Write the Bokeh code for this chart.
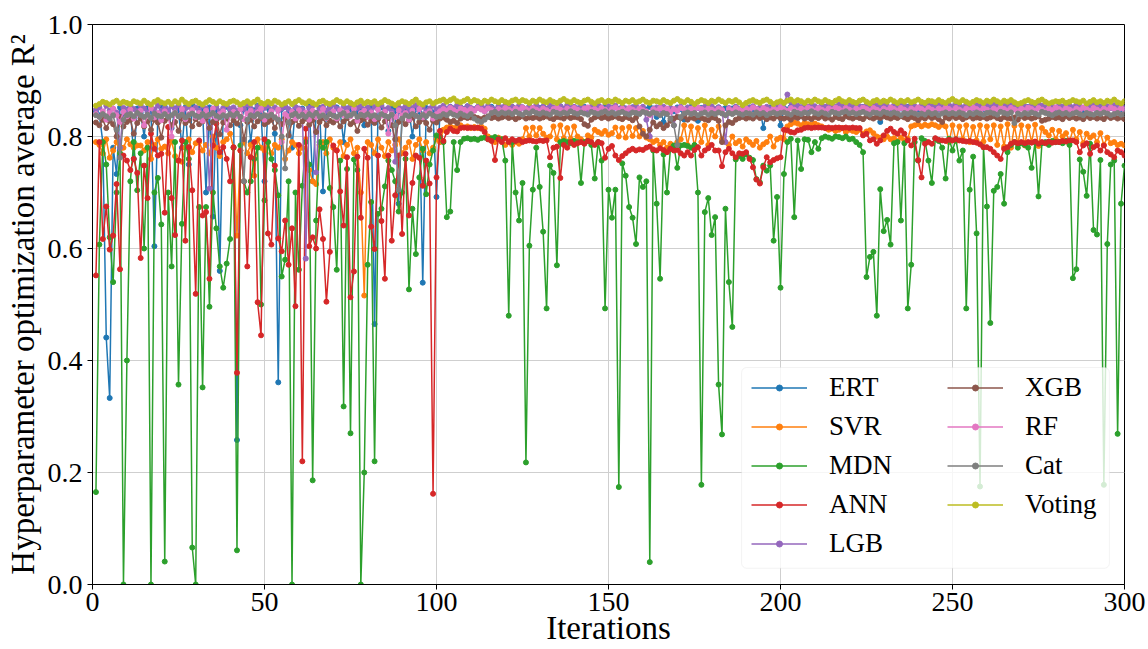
from bokeh.plotting import figure
from bokeh.models import (Legend, LegendItem, FixedTicker, BoxAnnotation,
                          ColumnDataSource, PrintfTickFormatter)
from bokeh.embed import file_html
from bokeh.resources import INLINE

ITER = list(range(1, 301))

# values in thousandths of R^2
ERT = [
845,838,790,441,333,780,733,852,840,848,
855,760,850,842,800,851,846,604,838,852,
853,845,815,850,848,780,852,750,856,835,
850,846,700,852,657,849,560,845,853,838,
850,258,820,848,852,790,847,855,843,720,
851,846,805,361,849,853,845,780,852,847,
850,835,854,720,842,851,702,846,853,840,
852,845,790,850,848,855,843,851,820,847,
853,465,849,852,845,810,851,846,680,842,
850,847,800,852,845,539,851,848,843,692,
845,851,848,853,850,846,852,849,854,850,
847,852,849,845,851,853,848,850,846,852,
849,853,850,847,852,848,854,850,846,851,
853,849,852,847,850,854,848,851,846,852,
850,847,853,849,851,846,852,848,854,850,
847,852,849,853,850,846,852,849,845,851,
848,853,850,835,852,826,849,851,845,852,
849,830,850,853,848,828,851,849,853,850,
846,852,848,851,845,850,853,847,851,848,
852,849,846,851,815,848,852,849,846,820,
851,848,853,849,846,852,850,847,853,849,
851,847,852,849,846,853,850,848,852,849,
846,851,848,853,850,847,852,849,826,851,
853,849,846,852,850,847,853,849,851,848,
852,849,846,851,853,848,850,847,852,849,
853,850,846,852,849,851,847,853,849,846,
852,849,851,847,853,850,846,852,849,851,
848,853,850,846,852,849,851,847,853,850,
846,852,849,851,847,853,850,846,852,849,
851,847,853,850,846,852,849,851,848,850]

SVR = [
790,785,770,795,762,775,790,770,780,795,
786,780,784,784,775,790,760,785,795,778,
782,770,792,765,757,755,780,795,772,788,
790,775,785,770,800,780,765,790,795,805,
780,623,775,790,770,785,730,795,780,775,
790,770,785,780,795,760,775,790,785,770,
780,795,740,720,715,785,790,770,795,780,
775,790,765,785,795,770,780,700,516,790,
785,770,795,780,765,790,775,785,795,770,
780,790,760,785,795,775,790,770,780,795,
790,812,816,818,815,817,820,816,818,815,
817,815,818,814,800,795,790,798,795,785,
792,785,790,787,795,815,800,816,802,815,
805,798,800,818,795,820,797,815,796,818,
800,795,790,802,798,812,808,805,810,803,
806,816,800,815,798,817,801,815,800,810,
798,795,790,793,785,790,780,787,783,790,
795,820,785,818,782,815,790,820,785,812,
800,818,795,790,785,800,788,792,782,795,
790,785,792,780,786,790,800,782,795,798,
795,818,822,825,823,820,824,822,821,823,
820,818,815,812,814,810,812,815,808,812,
810,808,812,805,809,811,806,800,798,795,
800,795,797,792,798,793,796,818,820,822,
818,821,819,822,820,817,821,818,790,820,
792,818,795,820,790,817,793,820,791,818,
795,820,785,818,782,822,780,819,786,820,
784,818,790,821,783,815,808,802,812,795,
810,800,806,790,812,795,808,788,805,798,
802,790,806,785,798,788,790,785,787,784]

MDN = [
165,607,790,750,620,540,700,770,0,400,
720,790,704,770,600,780,0,700,726,643,
41,700,568,790,357,644,790,760,66,0,
674,352,674,496,700,636,568,530,573,617,
780,61,784,720,700,720,760,780,500,686,
790,760,740,695,550,580,720,0,700,562,
712,790,750,186,650,790,780,790,708,674,
562,757,318,742,270,759,740,0,200,571,
683,220,662,671,711,757,740,720,666,700,
760,527,671,590,727,778,697,750,775,802,
800,790,656,666,790,740,790,796,797,795,
796,794,797,798,795,797,799,796,795,757,
480,790,700,650,717,218,605,705,780,710,
630,493,748,735,570,790,792,790,788,792,
790,717,790,792,785,725,790,757,493,705,
655,705,174,752,730,674,655,608,727,710,
720,40,775,680,546,768,700,778,784,744,
784,785,783,780,785,700,178,665,690,624,
656,357,268,671,540,460,759,765,760,768,
762,758,724,718,748,739,748,614,692,530,
733,790,796,656,793,742,795,794,772,790,
778,797,800,798,796,800,799,797,800,795,
796,790,785,772,549,585,594,480,706,631,
651,607,788,790,650,788,493,571,790,757,
797,792,757,717,796,792,780,725,796,775,
795,757,775,493,705,764,627,175,781,675,
467,703,710,733,680,772,785,790,780,788,
785,780,744,790,693,788,790,785,792,790,
790,788,792,785,547,563,759,737,694,787,
633,625,758,178,608,750,757,269,680,748]

ANN = [
552,790,617,675,598,623,715,563,766,757,
740,760,735,583,748,690,805,778,766,769,
664,817,690,624,757,793,614,781,704,519,
793,659,665,546,784,823,772,781,760,720,
781,378,775,720,568,763,790,504,445,795,
627,607,748,618,595,650,571,636,497,785,
220,814,604,620,600,670,617,505,594,784,
775,702,641,763,513,559,764,655,778,762,
639,599,766,649,546,766,614,695,766,626,
769,659,717,766,762,712,757,716,162,727,
810,792,808,814,810,809,815,816,815,816,
815,816,814,808,795,792,758,795,790,797,
790,795,792,794,790,792,793,792,791,793,
792,793,763,780,782,726,785,780,790,785,
788,790,787,792,790,785,790,788,762,778,
783,766,758,765,770,775,778,775,777,776,
780,782,777,775,779,776,772,778,775,776,
770,766,772,766,776,781,766,775,779,785,
775,775,747,772,778,770,763,770,769,772,
760,745,723,716,745,763,754,758,761,763,
812,811,808,807,811,812,815,816,815,816,
816,816,815,816,815,816,816,815,816,815,
816,815,815,802,805,793,795,787,793,802,
810,814,808,805,811,805,793,784,796,758,
727,787,790,787,797,794,793,792,794,793,
795,793,792,791,792,790,789,786,781,781,
778,772,766,760,778,781,787,790,788,790,
788,790,789,791,787,790,788,791,789,790,
790,792,791,793,793,790,772,784,788,769,
781,784,775,784,772,768,763,775,772,766]

LGB = [
848,852,840,855,846,850,843,780,851,847,
853,849,845,856,850,843,852,848,855,846,
851,847,854,849,856,845,850,853,848,852,
846,855,850,707,848,853,845,851,856,849,
852,846,854,849,857,850,844,853,848,851,
855,847,852,846,850,854,849,845,853,850,
848,582,851,855,736,849,853,846,851,857,
850,845,853,849,855,847,851,854,848,852,
846,853,850,856,848,851,845,755,852,849,
854,847,851,856,849,853,845,850,855,848,
851,855,849,853,850,856,852,848,854,851,
849,853,857,850,855,851,848,854,852,856,
850,853,849,855,852,848,854,851,856,850,
853,849,855,852,848,854,850,856,851,853,
849,855,851,847,853,850,856,852,848,854,
851,855,849,853,850,847,852,855,849,853,
830,800,845,852,849,853,847,851,820,850,
853,848,852,849,855,851,847,853,850,854,
849,852,848,790,851,847,853,849,852,848,
851,854,849,852,847,853,850,848,855,852,
860,875,862,858,855,852,856,853,857,854,
851,856,853,858,855,851,857,854,852,856,
853,857,854,851,856,853,858,855,852,857,
854,851,856,853,858,855,852,857,854,851,
856,853,858,855,852,857,854,851,856,853,
858,855,852,857,854,851,856,853,858,855,
852,857,854,851,856,853,858,855,852,857,
854,851,856,853,858,855,852,857,854,851,
856,853,858,855,852,857,854,851,856,853,
858,855,852,857,854,851,856,853,855,852]

XGB = [
825,820,830,815,828,822,800,835,818,826,
830,805,824,832,818,827,812,830,825,798,
828,833,820,826,810,832,824,829,818,831,
822,827,833,815,826,830,804,825,832,820,
829,823,835,795,826,830,818,827,833,822,
826,830,815,828,822,833,802,826,830,819,
827,832,821,829,808,826,833,820,828,825,
830,818,827,833,822,826,810,829,832,821,
828,824,831,816,827,833,820,795,826,830,
822,829,834,818,826,831,824,812,828,825,
832,834,830,826,828,824,832,835,833,834,
835,833,831,834,836,833,835,832,834,836,
833,835,831,834,836,832,834,833,835,832,
834,836,833,831,835,834,832,836,833,835,
834,831,822,819,830,834,836,833,835,832,
834,836,833,831,835,833,829,834,818,805,
800,812,825,818,822,815,820,828,832,835,
833,836,830,834,832,835,833,831,829,834,
833,828,790,820,826,824,830,833,835,832,
834,832,836,833,835,831,834,832,836,833,
832,834,830,835,833,836,832,834,831,835,
833,836,832,834,830,835,833,831,836,834,
832,835,833,831,836,834,832,835,833,836,
834,832,835,833,836,834,831,835,833,829,
834,832,836,833,835,831,826,834,832,836,
833,835,831,834,836,832,834,833,835,832,
834,836,833,831,835,833,832,834,830,836,
833,835,832,834,836,828,830,832,835,833,
834,831,836,833,835,832,834,831,836,833,
835,832,834,831,836,833,835,832,834,831]

RF = [
840,835,845,830,842,850,838,826,844,836,
848,832,840,846,820,838,851,834,842,829,
845,838,800,843,836,849,831,840,847,835,
842,828,846,837,850,833,840,845,812,838,
844,836,849,831,841,846,835,843,850,830,
838,845,834,848,790,840,836,844,832,847,
839,843,830,846,835,841,849,833,840,845,
832,847,838,843,836,850,828,842,846,835,
843,831,848,837,844,805,840,835,847,838,
842,830,846,837,849,834,841,845,832,840,
845,849,846,851,847,844,850,848,845,849,
846,851,848,845,850,847,844,849,846,851,
848,845,850,847,852,849,846,851,848,845,
850,847,844,849,852,848,845,850,847,851,
848,845,850,852,847,849,846,851,848,844,
849,852,847,850,846,851,848,845,850,847,
845,838,849,846,851,847,850,844,849,846,
851,848,845,850,847,852,849,846,850,848,
845,850,847,838,849,846,851,848,845,850,
847,852,849,846,851,848,845,850,847,852,
849,846,851,848,845,850,847,852,849,846,
851,848,845,850,847,852,849,846,851,848,
845,850,847,852,849,846,851,848,845,850,
847,852,849,846,851,848,845,850,847,852,
849,846,851,848,845,850,847,852,849,846,
851,848,845,850,847,852,849,846,851,848,
845,850,847,852,849,846,851,848,845,850,
847,852,849,846,851,848,845,850,847,852,
849,846,851,848,845,850,847,852,849,846,
851,848,845,850,847,852,849,846,851,848]

CAT = [
838,835,840,836,832,838,812,762,830,838,
840,836,842,838,835,839,833,841,837,836,
840,835,838,842,836,839,834,838,841,837,
835,840,836,839,842,837,834,838,836,840,
837,841,835,720,830,838,836,840,835,838,
836,839,834,830,800,743,825,838,841,836,
839,835,840,837,842,836,838,834,840,837,
835,839,842,836,838,841,835,839,837,840,
836,838,834,840,837,835,839,820,705,832,
838,836,840,837,834,839,836,841,838,835,
836,840,838,842,839,837,841,838,836,840,
832,828,826,830,835,842,844,840,843,841,
843,840,844,841,839,843,841,845,842,840,
843,841,839,844,842,840,843,841,845,842,
840,843,841,839,844,842,840,843,845,841,
843,840,842,844,841,839,843,842,840,844,
842,840,843,841,838,842,840,832,820,785,
835,841,843,840,842,838,841,843,839,842,
840,843,841,838,842,840,843,841,839,842,
841,839,843,840,842,838,841,843,840,842,
843,841,839,844,842,840,843,841,845,842,
840,843,841,839,844,842,840,843,845,841,
843,840,842,844,841,839,843,842,840,844,
842,840,843,841,838,842,840,843,841,839,
841,839,843,840,842,838,841,843,840,842,
840,843,841,838,842,840,843,841,839,842,
843,841,839,844,842,840,843,824,841,839,
842,840,843,841,839,844,842,840,838,841,
843,840,842,839,841,843,840,838,842,840,
839,842,840,843,841,838,840,842,839,840]

VOTING = [
855,858,862,860,857,861,864,859,862,860,
858,863,861,859,864,860,857,862,865,861,
859,862,858,863,860,866,861,858,862,864,
860,857,861,865,862,859,863,860,858,862,
864,861,857,860,863,859,862,866,860,858,
862,859,864,861,857,860,863,858,862,865,
861,859,863,860,857,862,864,860,858,861,
865,862,859,863,860,857,861,864,859,862,
860,863,858,861,865,862,859,856,860,863,
861,858,862,866,860,857,861,863,859,862,
864,866,862,865,868,863,861,864,867,862,
865,863,860,864,862,866,863,861,865,862,
860,864,866,862,865,863,860,864,862,866,
863,861,865,862,860,864,867,863,861,865,
862,860,864,866,862,859,863,865,861,864,
862,866,863,860,864,862,865,861,863,866,
862,860,864,863,861,865,862,860,864,867,
863,861,865,862,858,862,865,863,860,864,
862,866,863,860,864,862,865,861,856,860,
863,865,862,860,864,866,862,858,861,863,
860,864,866,862,865,863,860,864,862,866,
863,861,865,862,860,864,867,863,861,865,
862,860,864,866,862,859,863,865,861,864,
862,866,863,860,864,862,865,861,863,866,
862,860,864,863,861,865,862,860,864,867,
863,861,865,862,859,862,865,863,860,864,
862,866,863,860,864,862,865,861,858,860,
863,865,862,860,864,866,862,859,861,863,
862,864,860,862,865,863,861,864,859,862,
865,861,863,860,864,862,866,861,859,863]

NAMES = ["ERT", "SVR", "MDN", "ANN", "LGB", "XGB", "RF", "Cat", "Voting"]
COLORS = ["#1f77b4", "#ff7f0e", "#2ca02c", "#d62728", "#9467bd",
          "#8c564b", "#e377c2", "#7f7f7f", "#bcbd22"]
SERIES = [ERT, SVR, MDN, ANN, LGB, XGB, RF, CAT, VOTING]
X_TICKS = [0, 50, 100, 150, 200, 250, 300]
Y_TICKS = [0.0, 0.2, 0.4, 0.6, 0.8, 1.0]
X_LABEL = "Iterations"
Y_LABEL = "Hyperparameter optimization average R²"

FONT = "Liberation Serif"

p = figure(width=1148, height=649, x_range=(0, 300), y_range=(0, 1),
           output_backend="svg", toolbar_location=None,
           min_border_left=92, min_border_right=24,
           min_border_top=24, min_border_bottom=65)
p.background_fill_color = "white"
p.border_fill_color = "white"
p.outline_line_color = "black"
p.outline_line_width = 1

p.xaxis.ticker = FixedTicker(ticks=X_TICKS)
p.yaxis.ticker = FixedTicker(ticks=Y_TICKS)
p.yaxis.formatter = PrintfTickFormatter(format="%.1f")
for ax in (p.xaxis[0], p.yaxis[0]):
    ax.major_label_text_font = FONT
    ax.major_label_text_font_size = "28px"
    ax.major_label_text_color = "black"
    ax.axis_label_text_font = FONT
    ax.axis_label_text_font_size = "33px"
    ax.axis_label_text_font_style = "normal"
    ax.axis_label_text_color = "black"
    ax.major_tick_out = 5
    ax.major_tick_in = 0
    ax.minor_tick_out = 0
    ax.minor_tick_in = 0
    ax.axis_line_color = "black"
    ax.major_tick_line_color = "black"
p.xaxis.axis_label = X_LABEL
p.yaxis.axis_label = Y_LABEL
p.xaxis.major_label_standoff = 3
p.xaxis.axis_label_standoff = -4
p.yaxis.major_label_standoff = 5
p.yaxis.axis_label_standoff = 4

p.xgrid.grid_line_color = "#cfcfcf"
p.ygrid.grid_line_color = "#cfcfcf"
p.xgrid.grid_line_width = 1
p.ygrid.grid_line_width = 1

items = []
for name, col, vals in zip(NAMES, COLORS, SERIES):
    src = ColumnDataSource(dict(x=ITER, y=[v / 1000 for v in vals]))
    lr = p.line("x", "y", source=src, line_color=col, line_width=1.5)
    sr = p.scatter("x", "y", source=src, size=5, fill_color=col, line_color=col)
    items.append(LegendItem(label=name, renderers=[lr, sr]))

box = BoxAnnotation(left=188.7, right=295.6, bottom=0.029, top=0.3875,
                    fill_color="white", fill_alpha=0.8,
                    line_color="#d6d6d6", line_width=1)
try:
    box.border_radius = 5
except Exception:
    pass
p.add_layout(box)

def make_legend(its, loc):
    lg = Legend(items=its, location=loc, orientation="vertical")
    lg.background_fill_alpha = 0
    lg.border_line_alpha = 0
    lg.padding = 0
    lg.margin = 0
    lg.glyph_width = 56
    lg.glyph_height = 15
    lg.label_height = 32
    lg.label_standoff = 22
    lg.spacing = 7
    lg.label_text_font = FONT
    lg.label_text_font_size = "27px"
    lg.label_text_color = "black"
    return lg

p.add_layout(make_legend(items[:5], (659, 25)))
p.add_layout(make_legend(items[5:], (855, 64)))

open("out.html", "w").write(file_html(p, INLINE))
